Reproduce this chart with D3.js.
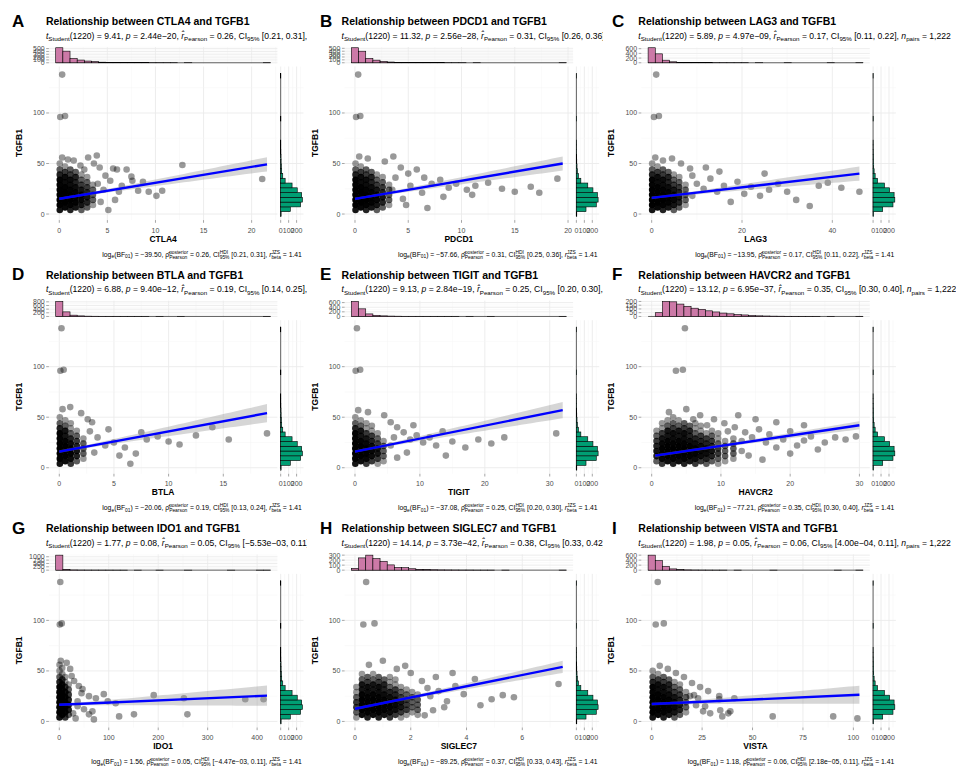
<!DOCTYPE html>
<html><head><meta charset="utf-8">
<script src="https://cdn.jsdelivr.net/npm/d3@7"></script>
<style>
body{margin:0;background:#fff}
svg{display:block;font-family:"Liberation Sans",Arial,Helvetica,sans-serif}
svg text{white-space:pre}
</style>
</head><body>
<svg id="chart" width="956" height="769"></svg>
<script>
// ---- data ----
var genes = ["CTLA4", "PDCD1", "LAG3", "BTLA", "TIGIT", "HAVCR2", "IDO1", "SIGLEC7", "VISTA"];
var tags = ["A", "B", "C", "D", "E", "F", "G", "H", "I"];
var geneMax = [21.6, 19.5, 46, 19, 32, 30, 420, 7.45, 103];

var tStat = ["9.41", "11.32", "5.89", "6.88", "9.13", "13.12", "1.77", "14.14", "1.98"];
var pVal = ["2.44e\u221220", "2.56e\u221228", "4.97e\u221209", "9.40e\u221212", "2.84e\u221219", "6.95e\u221237", "0.08", "3.73e\u221242", "0.05"];
var rPear = ["0.26", "0.31", "0.17", "0.19", "0.25", "0.35", "0.05", "0.38", "0.06"];
var ci95 = ["[0.21, 0.31]", "[0.26, 0.36]", "[0.11, 0.22]", "[0.14, 0.25]", "[0.20, 0.30]", "[0.30, 0.40]", "[\u22125.53e\u221203, 0.11]", "[0.33, 0.42]", "[4.00e\u221204, 0.11]"];
var bfLog = ["\u221239.50", "\u221257.66", "\u221213.95", "\u221220.06", "\u221237.08", "\u221277.21", "1.56", "\u221289.25", "1.18"];
var rhoPost = ["0.26", "0.31", "0.17", "0.19", "0.25", "0.35", "0.05", "0.37", "0.06"];
var hdi = ["[0.21, 0.31]", "[0.25, 0.36]", "[0.11, 0.22]", "[0.13, 0.24]", "[0.20, 0.30]", "[0.30, 0.40]", "[\u22124.47e\u221203, 0.11]", "[0.33, 0.43]", "[2.18e\u221205, 0.11]"];

var xTicks = [[0, 5, 10, 15, 20], [0, 5, 10, 15, 20], [0, 20, 40], [0, 5, 10, 15], [0, 10, 20, 30], [0, 10, 20, 30], [0, 100, 200, 300, 400], [0, 2, 4, 6], [0, 25, 50, 75, 100]];
var yTicks = [0, 50, 100];
var topTicks = [[0, 100, 200, 300, 400, 500], [0, 100, 200, 300, 400, 500], [0, 200, 400, 600], [0, 200, 400, 600, 800], [0, 200, 400, 600], [0, 50, 100, 150, 200], [0, 250, 500, 750, 1000], [0, 100, 200, 300], [0, 200, 400, 600]];
var sideTicks = [0, 100, 200];

// regression line ends (TGFB1 at x min / x max) and CI half-widths
var fitX0 = [0, 0, 0, 0, 0, 0.5, 0, 0, 0];
var fitLo = [15.1, 15, 16, 16, 16, 12, 16.5, 12.6, 17.2];
var fitHi = [49.2, 50, 40, 54, 57, 42, 25.5, 54, 26.4];
var fitMean = [1, 1, 2.5, 0.8, 1.5, 5, 6, 1, 5];
var bandMid = [1.2, 1.2, 1.2, 1.3, 1.2, 1.3, 1.3, 1.3, 1.3];
var bandEnd = [7, 7, 7, 9, 8, 4, 10, 6, 9];

// marginal histograms (30 bins)
var tgfbBinW = 4.72;
var tgfbCounts = [5, 121, 250, 273, 264, 208, 143, 56, 26, 13, 8, 5, 4, 2, 1, 1, 0, 0, 0, 0, 2, 0, 0, 0, 0, 0, 0, 0, 0, 1];
var cntCTLA4 = [530, 410, 150, 95, 60, 40, 20, 12, 8, 5, 4, 3, 2, 1, 1, 1, 1, 0, 1, 0, 0, 0, 0, 0, 0, 0, 0, 0, 0, 1];
var cntPDCD1 = [520, 400, 150, 90, 45, 25, 15, 10, 6, 4, 3, 2, 2, 1, 1, 1, 0, 1, 0, 0, 0, 0, 0, 0, 0, 0, 0, 0, 0, 1];
var cntLAG3 = [640, 380, 110, 40, 18, 10, 6, 4, 3, 2, 2, 1, 1, 1, 0, 1, 0, 0, 0, 1, 0, 0, 0, 0, 0, 1, 0, 0, 0, 1];
var cntBTLA = [820, 250, 70, 30, 15, 10, 6, 4, 3, 2, 2, 1, 1, 0, 1, 0, 0, 1, 0, 0, 0, 0, 0, 0, 0, 0, 0, 0, 0, 1];
var cntTIGIT = [650, 330, 110, 50, 25, 15, 10, 6, 4, 3, 2, 2, 1, 1, 1, 0, 1, 0, 0, 1, 0, 0, 0, 0, 0, 0, 0, 0, 0, 1];
var cntHAVCR2 = [0, 50, 200, 195, 165, 135, 110, 95, 75, 60, 45, 35, 25, 20, 12, 8, 6, 4, 3, 2, 2, 1, 1, 1, 0, 1, 0, 0, 0, 1];
var cntIDO1 = [1120, 60, 15, 8, 5, 4, 3, 2, 1, 1, 0, 1, 0, 0, 1, 0, 0, 0, 1, 0, 0, 0, 0, 0, 1, 0, 0, 0, 1, 1];
var cntSIGLEC7 = [35, 245, 300, 230, 175, 105, 55, 50, 28, 15, 10, 8, 5, 4, 3, 2, 2, 1, 1, 1, 0, 1, 0, 0, 0, 0, 0, 0, 0, 1];
var cntVISTA = [600, 380, 150, 50, 20, 10, 5, 3, 2, 1, 1, 0, 1, 0, 0, 0, 0, 1, 0, 0, 0, 0, 0, 0, 0, 0, 1, 0, 0, 1];

// scatter: [gene value, TGFB1, how many samples sit on that spot]
var ptsCTLA4 = [[0.05,4,5],[0.05,9,11],[0.05,14,15],[0.05,19,15],[0.05,24,11],[0.05,29,8],[0.05,34,8],[0.05,39,4],[0.05,44,2],[0.05,50,1],
[0.6,6.5,7],[0.6,11.5,14],[0.6,16.5,15],[0.6,21.5,14],[0.6,26.5,10],[0.6,31.5,6],[0.6,36.5,6],[0.6,41.5,3],[0.6,47,1],
[1.15,4,4],[1.15,9,9],[1.15,14,13],[1.15,19,13],[1.15,24,9],[1.15,29,6],[1.15,34,6],[1.15,39,3],[1.15,44,2],
[1.7,6.5,5],[1.7,11.5,9],[1.7,16.5,10],[1.7,21.5,9],[1.7,26.5,6],[1.7,31.5,4],[1.7,36.5,4],[1.7,41.5,2],
[2.3,4,2],[2.3,9,5],[2.3,14,7],[2.3,19,7],[2.3,24,5],[2.3,29,3],[2.3,34,2],[2.3,39,1],
[2.9,6.5,2],[2.9,11.5,4],[2.9,16.5,5],[2.9,21.5,4],[2.9,26.5,3],[2.9,31.5,2],[2.9,36.5,1],
[3.5,9,1],[3.5,14,2],[3.5,19,2],[3.5,24,2],[3.5,29,1],
[0.3,138,1],[0.1,96,1],[0.6,97,1],[0.3,56,1],[0.9,54,1],[3.0,56,1],[3.9,58,1],[12.8,48.5,1],[21.1,34.6,1],[10.7,23,1],[10.1,18,1],[9.3,22,1],[8.2,23,1],[8.7,32,1],[7.5,37,1],[7.6,33,1],[7.0,44,1],[6.0,44,1],[5.6,45,1],[4.6,24,1],[5.1,4,1],[5.8,14,1],[4.2,46,1],[3.6,50,1],[2.2,48,1],[6.5,28,1],[5.3,33,1],[4.8,38,1],[4.3,12,1],[4.0,30,1],[6.2,22,1],[1.5,53,1],[2.6,44,1]];

var ptsPDCD1 = [[0.05,4,5],[0.05,9,11],[0.05,14,15],[0.05,19,15],[0.05,24,11],[0.05,29,8],[0.05,34,8],[0.05,39,4],[0.05,44,2],[0.05,50,1],
[0.55,6.5,7],[0.55,11.5,14],[0.55,16.5,15],[0.55,21.5,14],[0.55,26.5,10],[0.55,31.5,6],[0.55,36.5,6],[0.55,41.5,3],[0.55,47,1],
[1.05,4,4],[1.05,9,9],[1.05,14,13],[1.05,19,13],[1.05,24,9],[1.05,29,6],[1.05,34,6],[1.05,39,3],[1.05,44,2],
[1.55,6.5,5],[1.55,11.5,9],[1.55,16.5,10],[1.55,21.5,9],[1.55,26.5,6],[1.55,31.5,4],[1.55,36.5,4],[1.55,41.5,2],
[2.05,4,2],[2.05,9,5],[2.05,14,7],[2.05,19,7],[2.05,24,5],[2.05,29,3],[2.05,34,2],[2.05,39,1],
[2.6,6.5,2],[2.6,11.5,4],[2.6,16.5,5],[2.6,21.5,4],[2.6,26.5,3],[2.6,31.5,2],[2.6,36.5,1],
[3.2,9,1],[3.2,14,2],[3.2,19,2],[3.2,24,2],[3.2,29,1],
[0.3,138,1],[0.1,96,1],[0.5,97,1],[0.4,57,1],[1.2,55,1],[2.8,52,1],[3.6,57,1],[4.3,46,1],[5.0,40,1],[5.8,44,1],[6.5,36,1],[7.2,30,1],[8.0,34,1],[8.8,26,1],[9.5,30,1],[10.5,24,1],[11.3,28,1],[12.5,31,1],[13.8,25,1],[15.0,22,1],[16.5,27,1],[19.0,35,1],[11.0,19,1],[8.3,17,1],[6.3,21,1],[5.2,28,1],[4.8,9,1],[6.8,6,1],[3.8,36,1],[4.5,15,1],[17.3,21,1],[3.5,24,1]];

var ptsLAG3 = [[0.1,4,5],[0.1,9,11],[0.1,14,15],[0.1,19,15],[0.1,24,11],[0.1,29,8],[0.1,34,8],[0.1,39,4],[0.1,44,2],[0.1,50,1],
[1.3,6.5,7],[1.3,11.5,14],[1.3,16.5,15],[1.3,21.5,14],[1.3,26.5,10],[1.3,31.5,6],[1.3,36.5,6],[1.3,41.5,3],[1.3,47,1],
[2.5,4,4],[2.5,9,9],[2.5,14,13],[2.5,19,13],[2.5,24,9],[2.5,29,6],[2.5,34,6],[2.5,39,3],[2.5,44,2],
[3.7,6.5,5],[3.7,11.5,9],[3.7,16.5,10],[3.7,21.5,9],[3.7,26.5,6],[3.7,31.5,4],[3.7,36.5,4],[3.7,41.5,2],
[4.9,4,2],[4.9,9,5],[4.9,14,7],[4.9,19,7],[4.9,24,5],[4.9,29,3],[4.9,34,2],[4.9,39,1],
[6.1,6.5,2],[6.1,11.5,4],[6.1,16.5,5],[6.1,21.5,4],[6.1,26.5,3],[6.1,31.5,2],[6.1,36.5,1],
[7.5,9,1],[7.5,14,2],[7.5,19,2],[7.5,24,2],[7.5,29,1],
[1,138,1],[0.5,96,1],[1.6,97,1],[0.8,56,1],[2.5,53,1],[4.5,55,1],[6.5,50,1],[8.5,45,1],[9,38,1],[10,30,1],[11.5,25,1],[13,35,1],[14.5,22,1],[16,28,1],[17.5,12,1],[19,32,1],[20.5,20,1],[22,27,1],[24,18,1],[26,24,1],[28,30,1],[30,22,1],[32,14,1],[35,8,1],[37,28,1],[39,31,1],[42,26,1],[46,22,1],[12,46,1],[25,40,1],[9,18,1],[15,42,1]];

var ptsBTLA = [[0.05,4,5],[0.05,9,12],[0.05,14,17],[0.05,19,17],[0.05,24,12],[0.05,29,9],[0.05,34,9],[0.05,39,4],[0.05,44,2],[0.05,50,1],
[0.55,6.5,6],[0.55,11.5,12],[0.55,16.5,13],[0.55,21.5,12],[0.55,26.5,8],[0.55,31.5,5],[0.55,36.5,5],[0.55,41.5,2],[0.55,47,1],
[1.05,4,3],[1.05,9,6],[1.05,14,9],[1.05,19,9],[1.05,24,6],[1.05,29,4],[1.05,34,2],[1.05,39,1],[1.05,44,1],
[1.6,6.5,2],[1.6,11.5,4],[1.6,16.5,5],[1.6,21.5,4],[1.6,26.5,3],[1.6,31.5,2],[1.6,36.5,1],
[2.2,9,1],[2.2,14,2],[2.2,19,2],[2.2,24,2],[2.2,29,1],
[0.2,138,1],[0.1,96,1],[0.4,97,1],[0.3,58,1],[1.0,60,1],[2.0,54,1],[3.0,45,1],[3.5,30,1],[4.5,38,1],[5.0,25,1],[6.0,20,1],[6.5,4,1],[7.5,35,1],[8.0,28,1],[9.0,31,1],[10,26,1],[11,23,1],[12.5,32,1],[14,40,1],[15.5,28,1],[19,34,1],[5.5,12,1],[2.6,48,1],[3.2,15,1],[4.2,22,1],[2.8,36,1],[7,14,1]];

var ptsTIGIT = [[0.05,4,5],[0.05,9,11],[0.05,14,15],[0.05,19,15],[0.05,24,11],[0.05,29,8],[0.05,34,8],[0.05,39,4],[0.05,44,2],[0.05,50,1],
[0.9,6.5,6],[0.9,11.5,12],[0.9,16.5,13],[0.9,21.5,12],[0.9,26.5,8],[0.9,31.5,5],[0.9,36.5,5],[0.9,41.5,2],[0.9,47,1],
[1.75,4,3],[1.75,9,7],[1.75,14,10],[1.75,19,10],[1.75,24,7],[1.75,29,5],[1.75,34,3],[1.75,39,1],[1.75,44,1],
[2.6,6.5,3],[2.6,11.5,6],[2.6,16.5,7],[2.6,21.5,6],[2.6,26.5,4],[2.6,31.5,3],[2.6,36.5,1],[2.6,41.5,1],
[3.5,4,1],[3.5,9,3],[3.5,14,5],[3.5,19,5],[3.5,24,3],[3.5,29,2],[3.5,34,1],
[4.4,6.5,1],[4.4,11.5,2],[4.4,16.5,2],[4.4,21.5,2],[4.4,26.5,1],
[0.3,138,1],[0.1,96,1],[0.8,97,1],[0.5,57,1],[2,55,1],[4.5,52,1],[5.5,45,1],[6.5,40,1],[7.5,35,1],[8.5,28,1],[9.5,32,1],[10.5,25,1],[11.5,30,1],[12.5,22,1],[13.5,36,1],[15,26,1],[17,20,1],[19,28,1],[21,24,1],[23,30,1],[31,34,1],[6.5,10,1],[8,15,1],[5.5,22,1],[6,30,1],[9,42,1],[14,12,1]];

var ptsHAVCR2 = [[0.7,6.5,2],[0.7,11.5,4],[0.7,16.5,5],[0.7,21.5,4],[0.7,26.5,3],[0.7,31.5,2],[0.7,36.5,1],
[1.5,4,3],[1.5,9,7],[1.5,14,10],[1.5,19,10],[1.5,24,7],[1.5,29,5],[1.5,34,3],[1.5,39,1],[1.5,44,1],
[2.3,6.5,6],[2.3,11.5,12],[2.3,16.5,13],[2.3,21.5,12],[2.3,26.5,8],[2.3,31.5,5],[2.3,36.5,5],[2.3,41.5,2],[2.3,47,1],
[3.1,4,4],[3.1,9,9],[3.1,14,13],[3.1,19,13],[3.1,24,9],[3.1,29,6],[3.1,34,6],[3.1,39,3],[3.1,44,2],[3.1,50,1],
[3.9,6.5,6],[3.9,11.5,12],[3.9,16.5,13],[3.9,21.5,12],[3.9,26.5,8],[3.9,31.5,5],[3.9,36.5,5],[3.9,41.5,2],[3.9,47,1],
[4.7,4,4],[4.7,9,9],[4.7,14,13],[4.7,19,13],[4.7,24,9],[4.7,29,6],[4.7,34,6],[4.7,39,3],[4.7,44,2],
[5.5,6.5,5],[5.5,11.5,9],[5.5,16.5,10],[5.5,21.5,9],[5.5,26.5,6],[5.5,31.5,4],[5.5,36.5,4],[5.5,41.5,2],
[6.3,4,3],[6.3,9,6],[6.3,14,9],[6.3,19,9],[6.3,24,6],[6.3,29,4],[6.3,34,2],[6.3,39,1],[6.3,44,1],
[7.1,6.5,3],[7.1,11.5,6],[7.1,16.5,7],[7.1,21.5,6],[7.1,26.5,4],[7.1,31.5,3],[7.1,36.5,1],[7.1,41.5,1],
[7.9,4,2],[7.9,9,4],[7.9,14,6],[7.9,19,6],[7.9,24,4],[7.9,29,3],[7.9,34,1],
[8.7,6.5,2],[8.7,11.5,4],[8.7,16.5,5],[8.7,21.5,4],[8.7,26.5,3],[8.7,31.5,2],[8.7,36.5,1],
[9.6,4,1],[9.6,9,2],[9.6,14,3],[9.6,19,3],[9.6,24,2],[9.6,29,1],[9.6,34,1],
[10.6,6.5,1],[10.6,11.5,2],[10.6,16.5,2],[10.6,21.5,2],[10.6,26.5,1],
[11.8,9,1],[11.8,14,2],[11.8,19,2],[11.8,24,2],[11.8,29,1],
[13,16.5,1],[13,26.5,1],
[4.8,138,1],[3.5,96,1],[4.5,97,1],[2.5,55,1],[5,58,1],[7,52,1],[9,48,1],[10.5,44,1],[12,40,1],[13.5,35,1],[14.5,30,1],[15.5,38,1],[16.5,25,1],[17,33,1],[18,20,1],[19,28,1],[20,36,1],[21,22,1],[22,27,1],[23,31,1],[24,18,1],[25,25,1],[26.5,30,1],[28,28,1],[29.5,31,1],[15,48,1],[12.5,52,1],[18,45,1],[22,42,1],[14,12,1],[16,8,1],[20,14,1],[11,36,1],[8,42,1],[6,48,1]];

var ptsIDO1 = [[0.5,4,5],[0.5,9,12],[0.5,14,17],[0.5,19,17],[0.5,24,12],[0.5,29,9],[0.5,34,9],[0.5,39,4],[0.5,44,2],[0.5,50,1],
[6,6.5,7],[6,11.5,14],[6,16.5,15],[6,21.5,14],[6,26.5,10],[6,31.5,6],[6,36.5,6],[6,41.5,3],[6,47,1],
[12,4,3],[12,9,7],[12,14,10],[12,19,10],[12,24,7],[12,29,5],[12,34,3],[12,39,1],[12,44,1],
[19,6.5,2],[19,11.5,4],[19,16.5,5],[19,21.5,4],[19,26.5,3],[19,31.5,2],[19,36.5,1],
[0.5,56,1],[3,60,1],[6,53,1],
[2,138,1],[1,96,1],[5,97,1],[39.5,35,1],[47,32,1],[60,25,1],[74,23,1],[90,27,1],[98,20,1],[114,18,1],[121,5,1],[151,7,1],[191,26,1],[252,23,1],[259,7,1],[376,22,1],[413,22,1],[33,3,1],[67,10,1],[70,2,1],[60,7,1],[37,15,1],[37,20,1],[25,45,1],[30,40,1],[45,28,1],[28,8,1],[50,12,1],[22,52,1],[15,58,1]];

var ptsSIGLEC7 = [[0.05,4,1],[0.05,9,2],[0.05,14,3],[0.05,19,3],[0.05,24,2],[0.05,29,1],[0.05,34,1],
[0.25,6.5,6],[0.25,11.5,12],[0.25,16.5,13],[0.25,21.5,12],[0.25,26.5,8],[0.25,31.5,5],[0.25,36.5,5],[0.25,41.5,2],[0.25,47,1],
[0.45,4,4],[0.45,9,9],[0.45,14,13],[0.45,19,13],[0.45,24,9],[0.45,29,6],[0.45,34,6],[0.45,39,3],[0.45,44,2],
[0.65,6.5,6],[0.65,11.5,12],[0.65,16.5,13],[0.65,21.5,12],[0.65,26.5,8],[0.65,31.5,5],[0.65,36.5,5],[0.65,41.5,2],[0.65,47,1],
[0.85,4,4],[0.85,9,9],[0.85,14,13],[0.85,19,13],[0.85,24,9],[0.85,29,6],[0.85,34,6],[0.85,39,3],[0.85,44,2],
[1.05,6.5,5],[1.05,11.5,9],[1.05,16.5,10],[1.05,21.5,9],[1.05,26.5,6],[1.05,31.5,4],[1.05,36.5,4],[1.05,41.5,2],
[1.25,4,3],[1.25,9,6],[1.25,14,9],[1.25,19,9],[1.25,24,6],[1.25,29,4],[1.25,34,2],[1.25,39,1],[1.25,44,1],
[1.45,6.5,3],[1.45,11.5,6],[1.45,16.5,7],[1.45,21.5,6],[1.45,26.5,4],[1.45,31.5,3],[1.45,36.5,1],[1.45,41.5,1],
[1.65,4,1],[1.65,9,3],[1.65,14,5],[1.65,19,5],[1.65,24,3],[1.65,29,2],[1.65,34,1],
[1.85,6.5,1],[1.85,11.5,3],[1.85,16.5,3],[1.85,21.5,3],[1.85,26.5,2],[1.85,31.5,1],
[2.05,9,1],[2.05,14,2],[2.05,19,2],[2.05,24,2],[2.05,29,1],
[2.25,6.5,1],[2.25,11.5,2],[2.25,16.5,2],[2.25,21.5,2],[2.25,26.5,1],
[0.4,138,1],[0.3,96,1],[0.7,97,1],[0.5,56,1],[1.0,60,1],[1.5,52,1],[2.0,48,1],[2.4,40,1],[2.6,33,1],[2.8,11,1],[3.2,14,1],[3.3,20,1],[3.9,27,1],[4.9,22,1],[5.3,26,1],[5.7,24,1],[7.3,37,1],[2.7,25,1],[3.0,30,1],[3.6,35,1],[2.5,6,1],[4.3,42,1],[3.5,48,1],[4.5,16,1],[2.9,44,1],[1.8,55,1]];

var ptsVISTA = [[0.5,4,5],[0.5,9,11],[0.5,14,15],[0.5,19,15],[0.5,24,11],[0.5,29,8],[0.5,34,8],[0.5,39,4],[0.5,44,2],[0.5,50,1],
[3.2,6.5,7],[3.2,11.5,14],[3.2,16.5,15],[3.2,21.5,14],[3.2,26.5,10],[3.2,31.5,6],[3.2,36.5,6],[3.2,41.5,3],[3.2,47,1],
[5.9,4,4],[5.9,9,9],[5.9,14,13],[5.9,19,13],[5.9,24,9],[5.9,29,6],[5.9,34,6],[5.9,39,3],[5.9,44,2],
[8.6,6.5,5],[8.6,11.5,9],[8.6,16.5,10],[8.6,21.5,9],[8.6,26.5,6],[8.6,31.5,4],[8.6,36.5,4],[8.6,41.5,2],
[11.3,4,2],[11.3,9,5],[11.3,14,7],[11.3,19,7],[11.3,24,5],[11.3,29,3],[11.3,34,2],[11.3,39,1],
[14,6.5,2],[14,11.5,4],[14,16.5,5],[14,21.5,4],[14,26.5,3],[14,31.5,2],[14,36.5,1],
[17,9,1],[17,14,2],[17,19,2],[17,24,2],[17,29,1],
[3,138,1],[2,96,1],[6,97,1],[19,25,1],[21,26,1],[23,23,1],[25.5,10,1],[29,8,1],[33.5,25,1],[33.5,22,1],[34,11,1],[38,8,1],[35,5,1],[41,23,1],[60,5,1],[90,5,1],[102,3,1],[26.5,15,1],[39,10,1],[4,55,1],[8,52,1],[12,48,1],[16,44,1],[20,38,1],[24,34,1],[28,30,1],[22,16,1]];

var allPts = [ptsCTLA4, ptsPDCD1, ptsLAG3, ptsBTLA, ptsTIGIT, ptsHAVCR2, ptsIDO1, ptsSIGLEC7, ptsVISTA];
var allCnt = [cntCTLA4, cntPDCD1, cntLAG3, cntBTLA, cntTIGIT, cntHAVCR2, cntIDO1, cntSIGLEC7, cntVISTA];

// ---- layout ----
var colL = [48.9, 344.6, 641.3];   // left edge of each column's main panel
var rowT = [0, 253.7, 507.4];
var cellX = [0, 307, 603, 956];
var tagX = [12, 320, 612];
var mainW = 228.5;
var gridMajor = "#EBEBEB", gridMinor = "#F4F4F4", tickCol = "#4D4D4D";

var svg = d3.select("#chart");
svg.append("rect").attr("width", 956).attr("height", 769).attr("fill", "#fff");
var defs = svg.append("defs");
var meas = svg.append("text").attr("x", -500).attr("y", -500);

function tw(s, size, style) {
	meas.attr("font-size", size).attr("font-style", style || "normal").text(s);
	return meas.node().getComputedTextLength();
}

// text with sub/superscripts; segs: [text, kind, sup]
function rich(g, x, y, segs, size, anchor) {
	var small = size * 0.72;
	var items = [], cx = 0;
	segs.forEach(function(s) {
		var w;
		if (s[1] === "n" || s[1] === "i") {
			w = tw(s[0], size, s[1] === "i" ? "italic" : "normal");
			items.push({t: s[0], x: cx, dy: 0, size: size, it: s[1] === "i"});
			cx += w;
		} else if (s[1] === "sub") {
			w = tw(s[0], small);
			items.push({t: s[0], x: cx, dy: size * 0.28, size: small});
			cx += w;
		} else {
			var w1 = tw(s[0], small), w2 = tw(s[2], small);
			items.push({t: s[0], x: cx, dy: size * 0.3, size: small});
			items.push({t: s[2], x: cx, dy: -size * 0.42, size: small});
			cx += Math.max(w1, w2);
		}
	});
	var x0 = anchor === "end" ? x - cx : x;
	items.forEach(function(d) {
		g.append("text")
			.attr("x", x0 + d.x)
			.attr("y", y + d.dy)
			.attr("font-size", d.size)
			.attr("font-style", d.it ? "italic" : "normal")
			.attr("fill", "#000")
			.text(d.t);
	});
}

function minors(ticks, dom) {
	var step = ticks[1] - ticks[0], out = [];
	ticks.forEach(function(t) { out.push(t - step / 2); });
	out.push(ticks[ticks.length - 1] + step / 2);
	return out.filter(function(v) { return v >= dom[0] && v <= dom[1]; });
}

genes.forEach(function(gene, i) {
	var c = i % 3, r = Math.floor(i / 3);
	var L = colL[c], T = rowT[r];
	var M = geneMax[i];
	var cnt = allCnt[i];

	defs.append("clipPath").attr("id", "clip" + i)
		.append("rect")
		.attr("x", cellX[c]).attr("y", T - 10)
		.attr("width", cellX[c + 1] - cellX[c]).attr("height", 275);
	var g = svg.append("g").attr("clip-path", "url(#clip" + i + ")");

	var x = d3.scaleLinear().domain([-0.05 * M, 1.05 * M]).range([L, L + mainW]);
	var y = d3.scaleLinear().domain([-6, 146]).range([T + 220.1, T + 66.5]);
	var cmax = d3.max(cnt);
	var yh = d3.scaleLinear().domain([-0.05 * cmax, 1.05 * cmax]).range([T + 63.5, T + 47]);
	var rmax = d3.max(tgfbCounts);
	var xh = d3.scaleLinear().domain([-0.05 * rmax, 1.05 * rmax]).range([L + 230.7, L + 254.6]);

	var xt = xTicks[i], xm = minors(xt, x.domain());
	var ym = minors(yTicks, y.domain());
	var tt = topTicks[i], tm = minors(tt, yh.domain());
	var sm = minors(sideTicks, xh.domain());

	// gridlines
	var grid = g.append("g");
	function vlines(vals, sc, y0, y1, col, w) {
		grid.selectAll(null).data(vals).enter().append("line")
			.attr("x1", function(d) { return sc(d); }).attr("x2", function(d) { return sc(d); })
			.attr("y1", y0).attr("y2", y1).attr("stroke", col).attr("stroke-width", w);
	}
	function hlines(vals, sc, x0, x1, col, w) {
		grid.selectAll(null).data(vals).enter().append("line")
			.attr("y1", function(d) { return sc(d); }).attr("y2", function(d) { return sc(d); })
			.attr("x1", x0).attr("x2", x1).attr("stroke", col).attr("stroke-width", w);
	}
	// main panel
	vlines(xm, x, T + 66.5, T + 220.1, gridMinor, 0.5);
	vlines(xt, x, T + 66.5, T + 220.1, gridMajor, 0.9);
	hlines(ym, y, L, L + mainW, gridMinor, 0.5);
	hlines(yTicks, y, L, L + mainW, gridMajor, 0.9);
	// top histogram panel
	vlines(xm, x, T + 47, T + 63.5, gridMinor, 0.5);
	vlines(xt, x, T + 47, T + 63.5, gridMajor, 0.9);
	hlines(tm, yh, L, L + mainW, gridMinor, 0.5);
	hlines(tt, yh, L, L + mainW, gridMajor, 0.9);
	// right histogram panel
	vlines(sm, xh, T + 66.5, T + 220.1, gridMinor, 0.5);
	vlines(sideTicks, xh, T + 66.5, T + 220.1, gridMajor, 0.9);
	hlines(ym, y, L + 230.7, L + 254.6, gridMinor, 0.5);
	hlines(yTicks, y, L + 230.7, L + 254.6, gridMajor, 0.9);

	// scatter
	g.append("g").selectAll("circle").data(allPts[i]).enter().append("circle")
		.attr("cx", function(d) { return x(d[0]); })
		.attr("cy", function(d) { return y(d[1]); })
		.attr("r", 3.3)
		.attr("fill", "#000")
		.attr("fill-opacity", function(d) { return 1 - Math.pow(0.6, d[2]); });

	// regression band + line
	var x0 = fitX0[i], x1 = M, lo = fitLo[i], hi = fitHi[i], mx = fitMean[i];
	var h0 = bandMid[i], h1 = bandEnd[i];
	var k2 = (h1 * h1 - h0 * h0) / ((x1 - mx) * (x1 - mx));
	var xs = d3.range(0, 41).map(function(j) { return x0 + (x1 - x0) * j / 40; });
	function fit(v) { return lo + (hi - lo) * (v - x0) / (x1 - x0); }
	function half(v) { return Math.sqrt(h0 * h0 + k2 * (v - mx) * (v - mx)); }
	g.append("path").datum(xs)
		.attr("d", d3.area()
			.x(function(v) { return x(v); })
			.y0(function(v) { return y(fit(v) - half(v)); })
			.y1(function(v) { return y(fit(v) + half(v)); }))
		.attr("fill", "#999").attr("fill-opacity", 0.4);
	g.append("line")
		.attr("x1", x(x0)).attr("y1", y(lo)).attr("x2", x(x1)).attr("y2", y(hi))
		.attr("stroke", "#0000FF").attr("stroke-width", 2.4);

	// top histogram
	var w = M / 29;
	var bins = cnt.map(function(v, k) { return {c: k * w, n: v}; });
	g.append("line")
		.attr("x1", x(-w / 2)).attr("x2", x(M + w / 2))
		.attr("y1", yh(0)).attr("y2", yh(0))
		.attr("stroke", "#000").attr("stroke-width", 0.6);
	g.append("g").selectAll("rect").data(bins.filter(function(b) { return b.n > 0; })).enter().append("rect")
		.attr("x", function(b) { return x(b.c - w / 2); })
		.attr("width", function(b) { return x(b.c + w / 2) - x(b.c - w / 2); })
		.attr("y", function(b) { return yh(b.n); })
		.attr("height", function(b) { return yh(0) - yh(b.n); })
		.attr("fill", "#CC79A7").attr("stroke", "#000").attr("stroke-width", 0.6);

	// right histogram
	var sb = tgfbCounts.map(function(v, k) { return {c: k * tgfbBinW, n: v}; });
	g.append("line")
		.attr("x1", xh(0)).attr("x2", xh(0))
		.attr("y1", y(-tgfbBinW / 2)).attr("y2", y(29 * tgfbBinW + tgfbBinW / 2))
		.attr("stroke", "#000").attr("stroke-width", 0.6);
	g.append("g").selectAll("rect").data(sb.filter(function(b) { return b.n > 0; })).enter().append("rect")
		.attr("x", xh(0))
		.attr("width", function(b) { return xh(b.n) - xh(0); })
		.attr("y", function(b) { return y(b.c + tgfbBinW / 2); })
		.attr("height", function(b) { return y(b.c - tgfbBinW / 2) - y(b.c + tgfbBinW / 2); })
		.attr("fill", "#009E73").attr("stroke", "#000").attr("stroke-width", 0.6);

	// axes: ticks and labels
	var ax = g.append("g").attr("font-size", 7).attr("fill", tickCol);
	function yAxisLabels(vals, sc) {
		vals.forEach(function(v) {
			ax.append("line").attr("x1", L - 2.7).attr("x2", L).attr("y1", sc(v)).attr("y2", sc(v))
				.attr("stroke", tickCol).attr("stroke-width", 0.5);
			ax.append("text").attr("x", L - 4.2).attr("y", sc(v) + 2.5)
				.attr("text-anchor", "end").text(v);
		});
	}
	yAxisLabels(yTicks, y);
	yAxisLabels(tt, yh);
	function xAxisLabels(vals, sc) {
		vals.forEach(function(v) {
			ax.append("line").attr("x1", sc(v)).attr("x2", sc(v)).attr("y1", T + 220.1).attr("y2", T + 222.8)
				.attr("stroke", tickCol).attr("stroke-width", 0.5);
			ax.append("text").attr("x", sc(v)).attr("y", T + 232.7)
				.attr("text-anchor", "middle").text(v);
		});
	}
	xAxisLabels(xt, x);
	xAxisLabels(sideTicks, xh);

	// axis titles
	g.append("text")
		.attr("transform", "translate(" + (L - 26.9) + "," + (T + 143) + ") rotate(-90)")
		.attr("text-anchor", "middle").attr("font-size", 8.5).attr("font-weight", "bold")
		.text("TGFB1");
	g.append("text")
		.attr("x", L + mainW / 2).attr("y", T + 241.7)
		.attr("text-anchor", "middle").attr("font-size", 8.5).attr("font-weight", "bold")
		.text(gene);

	// tag, title, subtitle, caption
	g.append("text").attr("x", tagX[c]).attr("y", T + 26.5)
		.attr("font-size", 17).attr("font-weight", "bold").text(tags[i]);
	g.append("text").attr("x", L - 3).attr("y", T + 25)
		.attr("font-size", 10.5).attr("font-weight", "bold")
		.text("Relationship between " + gene + " and TGFB1");

	rich(g, L - 3, T + 38.5, [
		["t", "i"], ["Student", "sub"], ["(1220) = " + tStat[i] + ", ", "n"],
		["p", "i"], [" = " + pVal[i] + ", ", "n"],
		["r\u0302", "i"], ["Pearson", "sub"], [" = " + rPear[i] + ", CI", "n"], ["95%", "sub"],
		[" " + ci95[i] + ", ", "n"], ["n", "i"], ["pairs", "sub"], [" = 1,222", "n"]
	], 8.6, "start");

	rich(g, L + 253, T + 256.5, [
		["log", "n"], ["e", "sub"], ["(BF", "n"], ["01", "sub"], [") = " + bfLog[i] + ", ", "n"],
		["\u03C1\u0302", "n"], ["Pearson", "ss", "posterior"], [" = " + rhoPost[i] + ", CI", "n"],
		["95%", "ss", "HDI"], [" " + hdi[i] + ", ", "n"],
		["r", "i"], ["beta", "ss", "JZS"], [" = 1.41", "n"]
	], 6.8, "end");
});
meas.remove();
</script>
</body></html>
